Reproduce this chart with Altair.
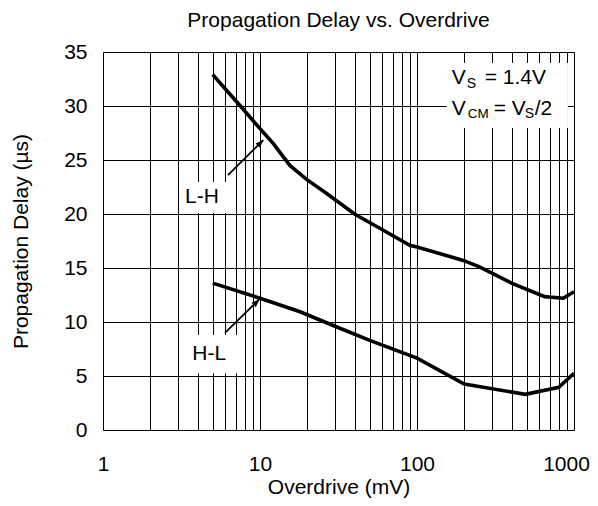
import altair as alt
import pandas as pd

FONT = "Liberation Sans"

# ---- data ----
LH_x = [5, 6, 7.5, 10, 12.2, 15.5, 19.8, 26.6, 40, 61, 90, 100, 197, 250, 400, 650, 855, 1000]
LH_y = [32.9, 31.6, 30.0, 27.9, 26.5, 24.5, 23.2, 21.9, 20.0, 18.5, 17.1, 16.95, 15.7, 15.1, 13.6, 12.35, 12.2, 12.8]
HL_x = [5, 10, 18, 29, 50, 100, 200, 490, 800, 1000]
HL_y = [13.6, 12.2, 10.95, 9.7, 8.3, 6.65, 4.25, 3.3, 3.95, 5.25]

x_grid = [1, 2, 3, 4, 5, 6, 7, 8, 9,
          10, 20, 30, 40, 50, 60, 70, 80, 90,
          100, 200, 300, 400, 500, 600, 700, 800, 900, 1000]
x_labels = [1, 10, 100, 1000]
y_ticks = [0, 5, 10, 15, 20, 25, 30, 35]

# annotations (data units)
label_text = ["L-H", "H-L"]
label_x = [4.27, 4.75]
label_y = [21.0, 6.5]

box_x1 = [3.1, 3.1, 155]
box_x2 = [6.25, 7.46, 915]
box_y1 = [20.1, 5.25, 27.96]
box_y2 = [22.96, 8.8, 33.98]

arrow_x0 = [6.25, 5.98]
arrow_y0 = [23.6, 9.0]
arrow_x1 = [10.5, 9.9]
arrow_y1 = [26.85, 12.1]

cond_x = 166.3
cond_line_y = [32.0, 29.17]
# pieces: text, line index, dx, dy, font size
cond_text = ["V", "S", "= 1.4V", "V", "CM", "= V", "S", "/2"]
cond_line = [0, 0, 0, 1, 1, 1, 1, 1]
cond_dx = [0, 15, 33, 0, 16, 42, 73, 83]
cond_dy = [0, 3.4, 0, 0, 3.4, 0, 3.4, 0]
cond_size = [21, 14, 21, 21, 13.5, 21, 14, 21]

# ---- tables ----
curves = pd.DataFrame({
    "x": LH_x + HL_x,
    "y": LH_y + HL_y,
    "series": ["L-H"] * len(LH_x) + ["H-L"] * len(HL_x),
})
boxes = pd.DataFrame({"x": box_x1, "x2": box_x2, "y": box_y1, "y2": box_y2})
arrows = pd.DataFrame({
    "x": arrow_x0 + arrow_x1,
    "y": arrow_y0 + arrow_y1,
    "arrow": [0, 1, 0, 1],
})
heads = pd.DataFrame({"x": arrow_x1, "y": arrow_y1})
labels = pd.DataFrame({"x": label_x, "y": label_y, "t": label_text})

label_test = " || ".join(f"datum.value == {v}" for v in x_labels)

x_axis = alt.Axis(
    values=x_grid, format="d",
    labelExpr=f"({label_test}) ? datum.label : ''",
    grid=True, gridColor="black", gridWidth=1, gridOpacity=1,
    domain=False, ticks=False, tickSize=0,
    labelFont=FONT, labelFontSize=21, labelColor="black",
    labelBaseline="alphabetic", labelPadding=40,
    labelFlush=False, labelOverlap=False,
    labelOffset={"condition": {"test": f"datum.value == {x_labels[-1]}", "value": -8}, "value": 0},
    title="Overdrive (mV)", titleFont=FONT, titleFontSize=21,
    titleFontWeight="normal", titleColor="black",
    titleBaseline="alphabetic", titleY=63, titleX=235.5,
)
y_axis = alt.Axis(
    values=y_ticks,
    grid=True, gridColor="black", gridWidth=1, gridOpacity=1,
    domain=False, ticks=False, tickSize=0,
    labelFont=FONT, labelFontSize=21, labelColor="black",
    labelPadding=16, labelFlush=False, labelOverlap=False,
    title="Propagation Delay (µs)", titleFont=FONT, titleFontSize=21,
    titleFontWeight="normal", titleColor="black",
    titleAngle=270, titleBaseline="alphabetic", titleAlign="center",
    titleX=-76, titleY=189,
)
xs = alt.Scale(type="log", domain=[1, 1000], nice=False)
ys = alt.Scale(domain=[0, 35], nice=False, zero=False)

X = alt.X("x:Q", scale=xs, axis=x_axis)
Y = alt.Y("y:Q", scale=ys, axis=y_axis)

box_layer = alt.Chart(boxes).mark_rect(fill="white").encode(
    x=X, x2="x2:Q", y=Y, y2="y2:Q")

curve_layer = alt.Chart(curves).mark_line(color="black", strokeWidth=3.6).encode(
    x=X, y=Y, detail="series:N")

arrow_layer = alt.Chart(arrows).mark_line(color="black", strokeWidth=1.8).encode(
    x=X, y=Y, detail="arrow:N")

head_layer = alt.Chart(heads).mark_point(
    shape="M0,0L0.38,1L-0.38,1Z", filled=True, fill="black",
    opacity=1, size=256, angle=45).encode(x=X, y=Y)

label_layer = alt.Chart(labels).mark_text(
    font=FONT, fontSize=21, color="black", align="center", baseline="alphabetic").encode(
    x=X, y=Y, text="t:N")

layers = [box_layer, curve_layer, arrow_layer, head_layer, label_layer]

for t, li, dx, dy, fs in zip(cond_text, cond_line, cond_dx, cond_dy, cond_size):
    df = pd.DataFrame({"x": [cond_x], "y": [cond_line_y[li]], "t": [t]})
    layers.append(
        alt.Chart(df).mark_text(
            font=FONT, fontSize=fs, color="black", align="left",
            baseline="alphabetic", dx=dx, dy=dy).encode(x=X, y=Y, text="t:N")
    )

chart = alt.layer(*layers).properties(
    width=471, height=378,
    padding={"left": 95, "top": 44, "right": 16, "bottom": 68},
    autosize=alt.AutoSizeParams(type="none"),
    title=alt.TitleParams(
        "Propagation Delay vs. Overdrive", font=FONT, fontSize=21,
        fontWeight="normal", color="black", anchor="middle", frame="group",
        baseline="alphabetic", offset=15, dy=22),
).configure_view(stroke="black", strokeWidth=2.6).configure(background="white")

chart.save("out.html", embed_options={"renderer": "svg", "actions": False})
